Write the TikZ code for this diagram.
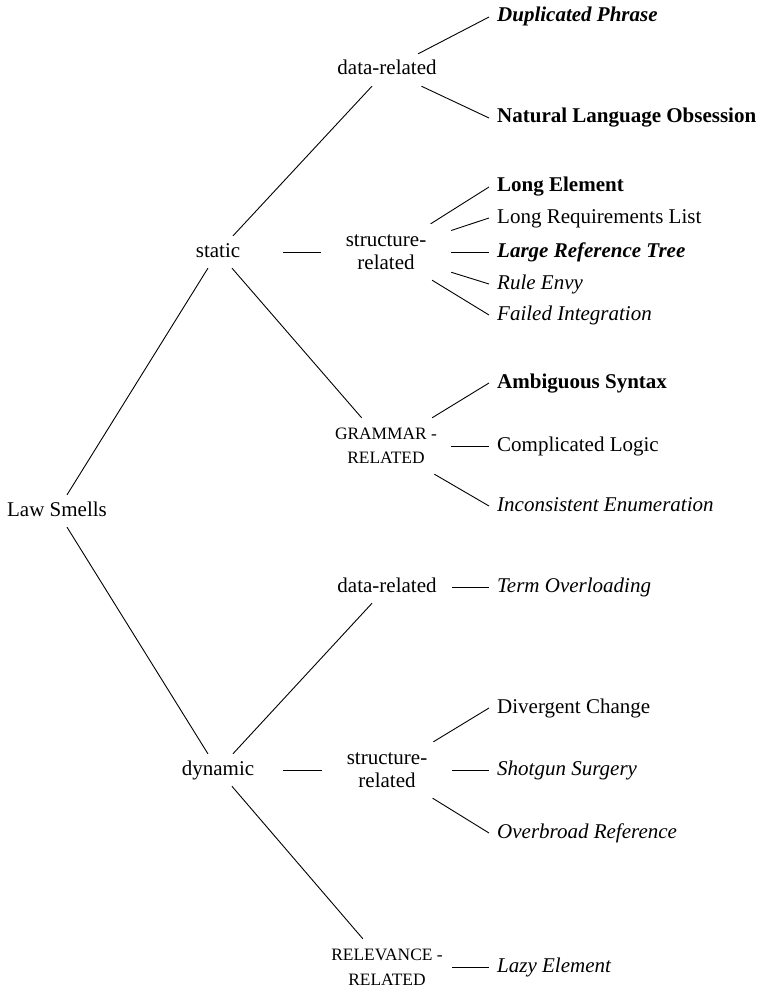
\documentclass[tikz,border=0pt]{standalone}
\usepackage{fontspec}
\setmainfont{Liberation Serif}
\begin{document}
\begin{tikzpicture}[x=1pt,y=-1pt,
  every node/.style={font=\fontsize{21}{23}\selectfont},
  inner/.style={minimum width=130pt, minimum height=32pt, inner sep=0pt, text height=14pt, text depth=4pt},
  innertwo/.style={minimum width=130pt, minimum height=56pt, inner sep=0pt, align=center, font=\fontsize{21}{22.5}\selectfont},
  capstwo/.style={minimum width=130pt, minimum height=56pt, inner sep=0pt, align=center, font=\fontsize{17.4}{24.5}\selectfont},
  leaf/.style={anchor=west, inner xsep=8pt, inner ysep=0pt, text height=14pt, text depth=4pt},
  bi/.style={font=\fontsize{21}{23}\selectfont\bfseries\itshape},
  bo/.style={font=\fontsize{21}{23}\selectfont\bfseries},
  it/.style={font=\fontsize{21}{23}\selectfont\itshape},
  conn/.style={draw, line width=0.9pt}]
\useasboundingbox (0,0) rectangle (765,987);
% internal nodes
\node[inner, minimum width=100pt] (law) at (57,511) {Law Smells};
\node[inner] (static) at (218,252) {static};
\node[inner] (dynamic) at (218,770) {dynamic};
\node[inner] (d1) at (387,70) {data-related};
\node[innertwo] (s1) at (386,252) {structure-\\related};
\node[capstwo] (g1) at (386,446) {GRAMMAR -\\RELATED};
\node[inner] (d2) at (387,587) {data-related};
\node[innertwo] (s2) at (387,770) {structure-\\related};
\node[capstwo] (r2) at (387,967) {RELEVANCE -\\RELATED};
% leaves
\node[leaf, bi] (dup) at (489,17) {Duplicated Phrase};
\node[leaf, bo] (nat) at (489,118) {Natural Language Obsession};
\node[leaf, bo] (le) at (489,187) {Long Element};
\node[leaf] (lrl) at (489,218) {Long Requirements List};
\node[leaf, bi] (lrt) at (489,252) {Large Reference Tree};
\node[leaf, it] (re) at (489,284) {Rule Envy};
\node[leaf, it] (fi) at (489,315) {Failed Integration};
\node[leaf, bo] (as) at (489,383) {Ambiguous Syntax};
\node[leaf] (cl) at (489,446) {Complicated Logic};
\node[leaf, it] (ie) at (489,506) {Inconsistent Enumeration};
\node[leaf, it] (to) at (489,587) {Term Overloading};
\node[leaf] (dc) at (489,708) {Divergent Change};
\node[leaf, it] (ss) at (489,770) {Shotgun Surgery};
\node[leaf, it] (ob) at (489,833) {Overbroad Reference};
\node[leaf, it] (lz) at (489,967) {Lazy Element};
% connectors
\draw[conn] (law) -- (static);
\draw[conn] (law) -- (dynamic);
\draw[conn] (static) -- (d1);
\draw[conn] (static) -- (s1);
\draw[conn] (static) -- (g1);
\draw[conn] (dynamic) -- (d2);
\draw[conn] (dynamic) -- (s2);
\draw[conn] (dynamic) -- (r2);
\draw[conn] (d1) -- (dup.west);
\draw[conn] (d1) -- (nat.west);
\draw[conn] (s1) -- (le.west);
\draw[conn] (s1) -- (lrl.west);
\draw[conn] (s1) -- (lrt.west);
\draw[conn] (s1) -- (re.west);
\draw[conn] (s1) -- (fi.west);
\draw[conn] (g1) -- (as.west);
\draw[conn] (g1) -- (cl.west);
\draw[conn] (g1) -- (ie.west);
\draw[conn] (d2) -- (to.west);
\draw[conn] (s2) -- (dc.west);
\draw[conn] (s2) -- (ss.west);
\draw[conn] (s2) -- (ob.west);
\draw[conn] (r2) -- (lz.west);
\end{tikzpicture}
\end{document}
